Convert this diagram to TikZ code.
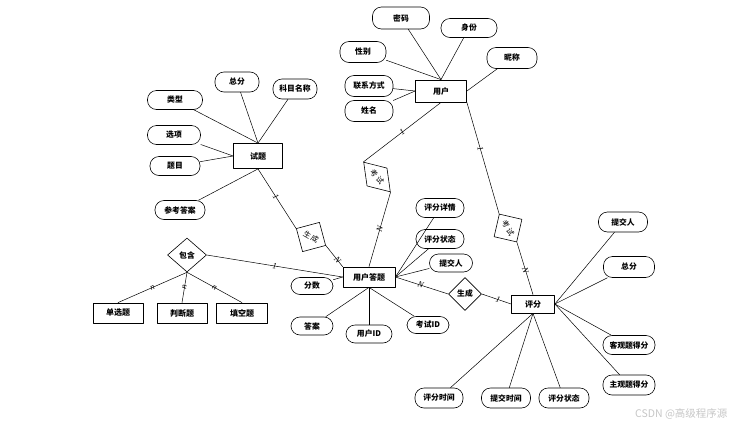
\documentclass[tikz,border=0pt]{standalone}
\usepackage{fontspec}
\newfontfamily\cjk{Noto Sans CJK SC}
\newfontfamily\serifit{Liberation Serif}
\usetikzlibrary{shapes.geometric}

\begin{document}
\begin{tikzpicture}[x=1pt, y=-1pt, line cap=round, line join=round,
  ent/.style={draw, line width=0.8pt, minimum height=20pt, inner sep=1pt,
    font=\cjk\bfseries\fontsize{8}{9}\selectfont},
  attr/.style={draw, line width=0.6pt, rounded corners=9pt, minimum height=19pt,
    inner sep=1pt, font=\cjk\bfseries\fontsize{7.8}{9}\selectfont},
  rel/.style={draw, diamond, inner sep=0pt, line width=0.6pt,
    font=\cjk\fontsize{7.5}{9}\selectfont},
  card/.style={sloped, inner sep=0.5pt, font=\serifit\itshape\fontsize{8.5}{8.5}\selectfont},
  link/.style={line width=0.5pt}]

\useasboundingbox (0,0) rectangle (740,429);

% entita
\node[ent, minimum width=51pt, minimum height=22pt] (yh) at (441,91) {用户};
\node[ent, minimum width=49pt, minimum height=25pt] (st) at (258,156) {试题};
\node[ent, minimum width=52pt] (yd) at (369,277) {用户答题};
\node[ent, minimum width=43pt, minimum height=18pt] (pf) at (533,304) {评分};
\node[ent, minimum width=50pt] (dx) at (118,313) {单选题};
\node[ent, minimum width=50pt] (pd) at (182,313) {判断题};
\node[ent, minimum width=51pt] (tk) at (242,313) {填空题};

% relazioni (rombi)
\node[rel, minimum width=40pt, minimum height=27pt, rotate=-48] (ks1) at (377,177) {考\,试};
\node[rel, minimum width=33pt, minimum height=33pt, rotate=-58] (ks2) at (508,228) {考\,试};
\node[rel, minimum width=34pt, minimum height=34pt, rotate=-30] (sc1) at (311,237) {生\,成};
\node[rel, minimum width=33pt, minimum height=33pt, font=\cjk\bfseries\fontsize{7.8}{9}\selectfont] (sc2) at (465,294) {生成};
\node[rel, minimum width=39pt, minimum height=34pt, font=\cjk\bfseries\fontsize{7.8}{9}\selectfont] (bh) at (187,255) {包含};

% attributi utente
\node[attr, minimum width=57pt, minimum height=22pt] (mm) at (401,18) {密码};
\node[attr, minimum width=56pt] (sf) at (469,28) {身份};
\node[attr, minimum width=46pt, minimum height=21pt] (xb) at (363,52) {性别};
\node[attr, minimum width=50pt, minimum height=21pt] (nc) at (512,58) {昵称};
\node[attr, minimum width=48pt, minimum height=21pt] (lxfs) at (369,86) {联系方式};
\node[attr, minimum width=48pt, minimum height=21pt] (xm) at (369,111) {姓名};

% attributi试题
\node[attr, minimum width=44pt, minimum height=20pt] (zf1) at (237,82) {总分};
\node[attr, minimum width=44pt, minimum height=20pt] (km) at (295,89) {科目名称};
\node[attr, minimum width=55pt] (lx) at (175,100) {类型};
\node[attr, minimum width=53pt] (xx) at (174,135) {选项};
\node[attr, minimum width=50pt] (tm) at (175,166) {题目};
\node[attr, minimum width=50pt] (ck) at (180,210) {参考答案};

% attributi risposta
\node[attr, minimum width=48pt] (pfxq) at (440,208) {评分详情};
\node[attr, minimum width=48pt] (pfzt1) at (440,239) {评分状态};
\node[attr, minimum width=43pt, minimum height=18pt] (tjr1) at (451,263) {提交人};
\node[attr, minimum width=42pt, minimum height=17pt] (fs) at (312,286) {分数};
\node[attr, minimum width=42pt, minimum height=18pt] (da) at (312,326) {答案};
\node[attr, minimum width=46pt, minimum height=18pt] (yhid) at (369,334) {用户ID};
\node[attr, minimum width=42pt, minimum height=17pt] (ksid) at (428,325) {考试ID};

% attributi valutazione
\node[attr, minimum width=49pt, minimum height=20pt] (tjr2) at (623,222) {提交人};
\node[attr, minimum width=51pt, minimum height=21pt] (zf2) at (629,267) {总分};
\node[attr, minimum width=52pt] (kg) at (629,345) {客观题得分};
\node[attr, minimum width=52pt, minimum height=20pt] (zg) at (629,385) {主观题得分};
\node[attr, minimum width=48pt, minimum height=20pt] (pfsj) at (439,398) {评分时间};
\node[attr, minimum width=49pt, minimum height=20pt] (tjsj) at (506,398) {提交时间};
\node[attr, minimum width=50pt, minimum height=20pt] (pfzt2) at (564,398) {评分状态};

% collegamenti attributi
\foreach \a in {mm,sf,xb} \draw[link] (\a) -- (yh.north);
\foreach \a in {lxfs,xm} \draw[link] (\a) -- (yh.west);
\draw[link] (nc) -- (yh.east);
\foreach \a in {zf1,km,lx} \draw[link] (\a) -- (st.north);
\foreach \a in {xx,tm} \draw[link] (\a) -- (st.west);
\draw[link] (ck) -- (st.south);
\foreach \a in {pfxq,pfzt1,tjr1} \draw[link] (\a) -- (yd.east);
\draw[link] (fs) -- (yd.west);
\foreach \a in {da,yhid,ksid} \draw[link] (\a) -- (yd.south);
\foreach \a in {tjr2,zf2,kg,zg} \draw[link] (\a) -- (pf.east);
\foreach \a in {pfsj,tjsj,pfzt2} \draw[link] (\a) -- (pf.south);

% relazioni con cardinalita
\draw[link] (yh.south) -- node[card, pos=0.5] {1} (ks1.west);
\draw[link] (ks1.east) -- node[card, pos=0.5] {N} (yd.north);
\draw[link] (yh.south east) -- node[card, pos=0.42] {1} (ks2.west);
\draw[link] (ks2.east) -- node[card, pos=0.53] {N} (pf.north);
\draw[link] (st.south) -- node[card, pos=0.47] {1} (sc1.west);
\draw[link] (sc1.east) -- node[card, pos=0.7] {N} (yd.north west);
\draw[link] (bh.east) -- node[card, pos=0.5] {1} (yd.west);
\draw[link] (yd.east) -- node[card, pos=0.48] {N} (sc2.west);
\draw[link] (sc2.east) -- node[card, pos=0.55] {1} (pf.west);
\foreach \b in {dx,pd,tk}
  \draw[link] (bh.south) -- node[card, pos=0.5] {n} (\b.north);

% filigrana
\node[anchor=east, text=gray!45, font=\cjk\fontsize{10.5}{12}\selectfont] (wm) at (731,414) {CSDN @高级程序源};
\end{tikzpicture}
\end{document}
